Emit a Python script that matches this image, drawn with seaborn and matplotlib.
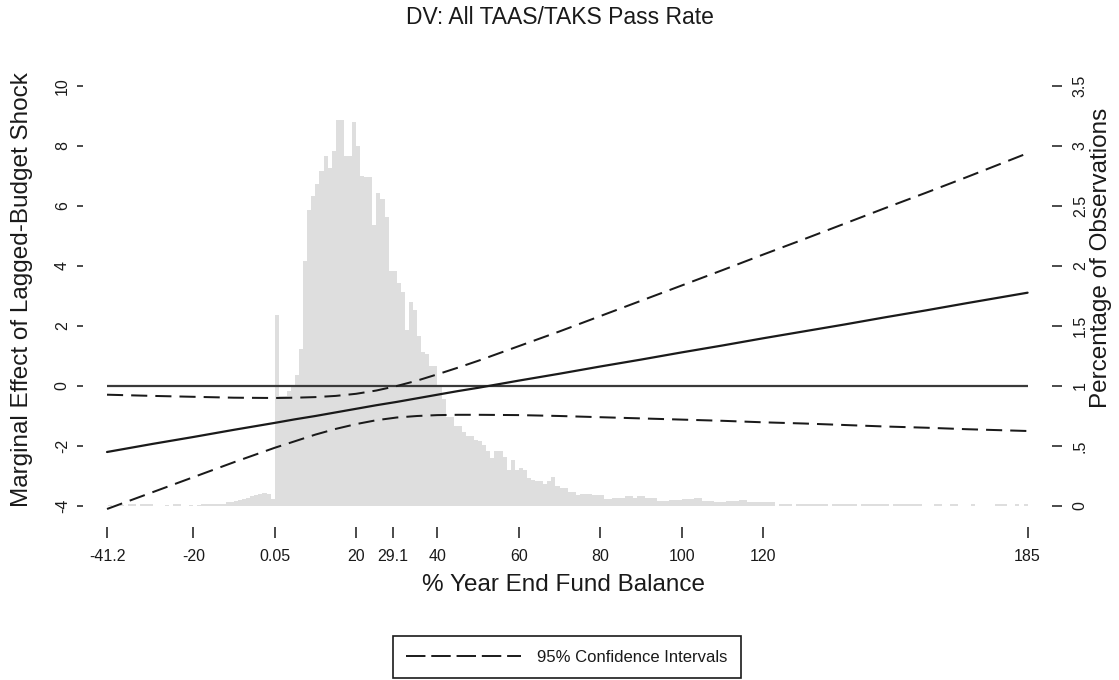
import numpy as np
import pandas as pd
import matplotlib
matplotlib.use("Agg")
import matplotlib.pyplot as plt
import seaborn as sns
from matplotlib.lines import Line2D

sns.set_theme(style="white")
plt.rcParams["font.family"] = ["Liberation Sans", "DejaVu Sans"]
plt.rcParams["axes.unicode_minus"] = False

# Marginal effect of the lagged budget shock across fund balance, with 95% CI
fund_balance = [-41.2, -30, -20, -10, 0, 5, 10, 15, 20, 25, 30, 35, 40, 45, 50,
                60, 70, 80, 90, 100, 110, 120, 130, 140, 150, 160, 170, 185]
marginal_effect = [-2.20, -1.93, -1.70, -1.46, -1.23, -1.11, -1.00, -0.88, -0.76, -0.64,
                   -0.53, -0.41, -0.29, -0.17, -0.06, 0.18, 0.41, 0.65, 0.88, 1.12,
                   1.35, 1.59, 1.82, 2.05, 2.29, 2.52, 2.76, 3.11]
ci_upper = [-0.29, -0.33, -0.36, -0.39, -0.40, -0.39, -0.37, -0.33, -0.26, -0.15,
            0.00, 0.18, 0.39, 0.61, 0.84, 1.33, 1.82, 2.33, 2.84, 3.35,
            3.86, 4.38, 4.89, 5.41, 5.93, 6.44, 6.96, 7.76]
ci_lower = [-4.10, -3.54, -3.04, -2.54, -2.06, -1.84, -1.62, -1.43, -1.27, -1.14,
            -1.05, -1.00, -0.97, -0.96, -0.96, -0.97, -1.00, -1.04, -1.08, -1.12,
            -1.16, -1.21, -1.25, -1.30, -1.35, -1.39, -1.44, -1.50]

# Distribution of observations: one-point bins starting at -41
hist_bin_start = list(range(-41, 185))
pct_below_zero = [0.01, 0.0, 0.0, 0.01, 0.0, 0.015, 0.015, 0.0, 0.015, 0.015,
                  0.015, 0.0, 0.0, 0.0, 0.01, 0.0, 0.015, 0.015, 0.0, 0.0,
                  0.01, 0.0, 0.01, 0.015, 0.015, 0.02, 0.015, 0.02, 0.02, 0.03,
                  0.03, 0.04, 0.05, 0.06, 0.07, 0.08, 0.09, 0.10, 0.11, 0.10,
                  0.06]
pct_core = [1.59, 0.92, 0.92, 0.96, 1.00, 1.09, 1.31, 2.04, 2.47, 2.58,
            2.68, 2.79, 2.92, 2.82, 2.96, 3.22, 3.22, 2.92, 2.92, 3.20,
            3.00, 2.75, 2.74, 2.74, 2.34, 2.61, 2.56, 2.41, 1.96, 1.96,
            1.86, 1.78, 1.47, 1.70, 1.63, 1.42, 1.28, 1.27, 1.17, 1.17,
            1.00, 0.89, 0.74, 0.74, 0.67, 0.67, 0.62, 0.58]
pct_upper_tail = [0.58, 0.55, 0.54, 0.51, 0.46, 0.40, 0.46, 0.46, 0.41, 0.30,
                  0.38, 0.30, 0.32, 0.30, 0.23, 0.22, 0.21, 0.21, 0.18, 0.21,
                  0.24, 0.17, 0.15, 0.15, 0.12, 0.12, 0.09, 0.10, 0.10, 0.10,
                  0.09, 0.09, 0.09, 0.06, 0.06, 0.07, 0.07, 0.07, 0.08, 0.08,
                  0.07, 0.08, 0.08, 0.07, 0.07, 0.07, 0.045, 0.045, 0.045, 0.05,
                  0.05, 0.05, 0.06, 0.06, 0.06, 0.07, 0.07, 0.045, 0.045, 0.045,
                  0.035, 0.035, 0.035, 0.04, 0.04, 0.04, 0.05, 0.05, 0.035, 0.035,
                  0.035, 0.03,
                  0.03, 0.03, 0.03, 0.0, 0.02, 0.02, 0.02, 0.0, 0.02, 0.02,
                  0.02, 0.02, 0.02, 0.02, 0.02, 0.02, 0.0, 0.02, 0.02, 0.02,
                  0.02, 0.02, 0.02, 0.0, 0.015, 0.015, 0.015, 0.015, 0.015, 0.015,
                  0.015, 0.0, 0.015, 0.015, 0.015, 0.015, 0.015, 0.015, 0.015, 0.0,
                  0.0, 0.0, 0.015, 0.015, 0.0, 0.0, 0.015, 0.015, 0.0, 0.0,
                  0.0, 0.015, 0.0, 0.0, 0.0, 0.0, 0.0, 0.015, 0.015, 0.015,
                  0.0, 0.0, 0.015, 0.0, 0.015]

x_ticks = [-41.2, -20, 0.05, 20, 29.1, 40, 60, 80, 100, 120, 185]
x_tick_labels = ["-41.2", "-20", "0.05", "20", "29.1", "40", "60", "80", "100", "120", "185"]
left_ticks = [-4, -2, 0, 2, 4, 6, 8, 10]
right_ticks = [0, 0.5, 1, 1.5, 2, 2.5, 3, 3.5]
right_tick_labels = ["0", ".5", "1", "1.5", "2", "2.5", "3", "3.5"]

effect_df = pd.DataFrame({"fund_balance": fund_balance, "effect": marginal_effect,
                          "upper": ci_upper, "lower": ci_lower})
hist_df = pd.DataFrame({"bin_start": hist_bin_start,
                        "pct": pct_below_zero + pct_core + pct_upper_tail})
hist_df["center"] = hist_df["bin_start"] + 0.5
bin_edges = hist_bin_start + [hist_bin_start[-1] + 1]

W, H = 1119, 680
fig = plt.figure(figsize=(W / 100, H / 100), dpi=100)
ax = fig.add_axes([83 / W, (H - 527) / H, 969 / W, 462 / H])
ax2 = ax.twinx()

# histogram on the right-hand axis, behind the effect lines
sns.histplot(data=hist_df, x="center", weights="pct", bins=bin_edges, stat="count",
             element="step", fill=True, color="#dedede", alpha=1, linewidth=0, ax=ax2)
ax.set_zorder(ax2.get_zorder() + 1)
ax.patch.set_visible(False)

ink = "#1a1a1a"
ax.hlines(0, fund_balance[0], fund_balance[-1], color="#3a3a3a", lw=1.6, zorder=2)
sns.lineplot(data=effect_df, x="fund_balance", y="effect", color=ink, lw=1.6,
             errorbar=None, ax=ax, zorder=3)
ci_style = dict(color=ink, lw=1.45, errorbar=None, ax=ax, zorder=3,
                linestyle=(0, (8.0, 4.0)))
sns.lineplot(data=effect_df, x="fund_balance", y="upper", **ci_style)
sns.lineplot(data=effect_df, x="fund_balance", y="lower", **ci_style)

ax.set_xlim(-47.1, 191.0)
ax.set_ylim(-4.7, 10.7)
ax2.set_ylim(-0.175, 3.675)

for a in (ax, ax2):
    for s in a.spines.values():
        s.set_visible(False)
    a.grid(False)
    a.set_xlabel("")
    a.set_ylabel("")

ax.set_xticks(x_ticks)
ax.set_xticklabels(x_tick_labels)
ax.set_yticks(left_ticks)
ax.set_yticklabels([str(t) for t in left_ticks])
ax2.set_yticks(right_ticks)
ax2.set_yticklabels(right_tick_labels)

ax.tick_params(axis="x", bottom=True, length=8, width=1.1, pad=8, labelsize=11.5,
               color=ink, labelcolor=ink)
ax.tick_params(axis="y", left=True, length=4.5, width=1.1, pad=5, labelsize=11.5,
               color=ink, labelcolor=ink)
ax2.tick_params(axis="y", right=True, length=7, width=1.1, pad=8, labelsize=11.5,
                color=ink, labelcolor=ink)
for lab in ax.get_yticklabels():
    lab.set_rotation(90)
    lab.set_va("center")
for lab in ax2.get_yticklabels():
    lab.set_rotation(90)
    lab.set_va("center")
    lab.set_ha("left")

fig.text(0.5, 1 - 17 / H, "DV: All TAAS/TAKS Pass Rate", ha="center", va="center",
         fontsize=16.5, color=ink)
fig.text(563 / W, 1 - 585 / H, "% Year End Fund Balance", ha="center", va="center",
         fontsize=17.5, color=ink)
fig.text(22.5 / W, 1 - 290 / H, "Marginal Effect of Lagged-Budget Shock", rotation=90,
         ha="center", va="center", fontsize=17.5, color=ink)
fig.text(1101 / W, 1 - 258 / H, "Percentage of Observations", rotation=90,
         ha="center", va="center", fontsize=17.5, color=ink)

ci_handle = Line2D([], [], color=ink, lw=1.4, linestyle=(0, (10, 3)))
leg = fig.legend(handles=[ci_handle], labels=["95% Confidence Intervals"],
                 loc="upper center", bbox_to_anchor=(567 / W, 1 - 628 / H),
                 frameon=True, fancybox=False, edgecolor=ink, framealpha=1,
                 fontsize=12, handlelength=6.9, handletextpad=0.95, borderpad=0.8)
leg.get_frame().set_linewidth(1.2)
for t in leg.get_texts():
    t.set_color(ink)

fig.savefig("out.png", dpi=100)
